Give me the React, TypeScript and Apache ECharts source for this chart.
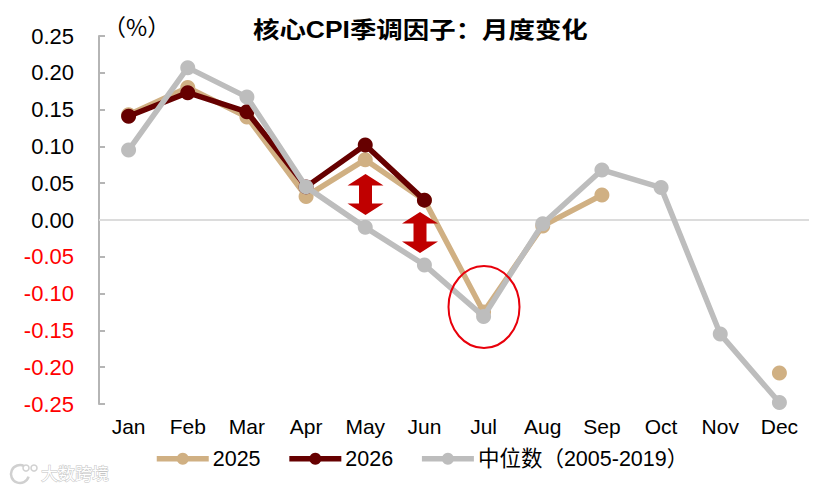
import React, { useEffect, useRef } from "react";
import * as echarts from "echarts";

const months = ["Jan", "Feb", "Mar", "Apr", "May", "Jun", "Jul", "Aug", "Sep", "Oct", "Nov", "Dec"];
const y2025 = [0.143, 0.18, 0.14, 0.032, 0.082, 0.027, -0.125, -0.008, 0.034, null, null, -0.208];
const y2026 = [0.141, 0.173, 0.147, 0.045, 0.102, 0.027, null, null, null, null, null, null];
const median = [0.095, 0.207, 0.167, 0.045, -0.01, -0.061, -0.131, -0.005, 0.068, 0.044, -0.155, -0.248];
const FONT = '"Liberation Sans", Arial, sans-serif';
const CJK = '"Liberation Sans", "Noto Sans CJK SC", sans-serif';

const arrow = (cx: number, cy: number) => ({
  type: "polygon",
  z: 20,
  shape: {
    points: [
      [cx, cy - 20.5], [cx + 18, cy - 9], [cx + 6.5, cy - 9], [cx + 6.5, cy + 9], [cx + 18, cy + 9],
      [cx, cy + 20.5], [cx - 18, cy + 9], [cx - 6.5, cy + 9], [cx - 6.5, cy - 9], [cx - 18, cy - 9],
    ],
  },
  style: { fill: "#c00000" },
});

const line = (name: string, data: (number | null)[], color: string, z: number) => ({
  name,
  type: "line",
  data,
  z,
  symbol: "circle",
  symbolSize: 15,
  showAllSymbol: true,
  connectNulls: false,
  lineStyle: { color, width: 5.5 },
  itemStyle: { color },
});

export default function App() {
  const ref = useRef<HTMLDivElement>(null);
  useEffect(() => {
    document.body.style.margin = "0";
    const chart = echarts.init(ref.current!, null, { renderer: "svg" });
    const s0: any = line("2025", y2025, "#d0b083", 3);
    s0.markLine = {
      silent: true,
      symbol: "none",
      label: { show: false },
      lineStyle: { color: "#dcdcdc", width: 2, type: "solid" },
      data: [{ yAxis: 0 }],
      z: 1,
    };
    chart.setOption({
      animation: false,
      backgroundColor: "#fff",
      grid: { left: 99, right: 21, top: 36, bottom: 87 },
      legend: {
        left: 149,
        top: 443,
        itemWidth: 52,
        itemHeight: 15,
        itemGap: 26,
        lineStyle: { width: 5.5 },
        textStyle: { fontFamily: CJK, fontSize: 21.5, color: "#000", padding: [0, 0, 0, -1] },
        data: ["2025", "2026", "中位数（2005-2019）"],
      },
      xAxis: {
        type: "category",
        data: months,
        boundaryGap: true,
        axisLine: { show: false, onZero: false },
        axisTick: { show: false },
        axisLabel: { fontFamily: FONT, fontSize: 21, color: "#000", margin: 12, interval: 0 },
      },
      yAxis: {
        type: "value",
        min: -0.25,
        max: 0.25,
        interval: 0.05,
        splitLine: { show: false },
        axisLine: { show: true, lineStyle: { color: "#b5b5b5", width: 2 } },
        axisTick: { show: true, inside: true, length: 6, lineStyle: { color: "#b5b5b5", width: 2 } },
        axisLabel: {
          fontFamily: FONT,
          fontSize: 22,
          margin: 25,
          formatter: (v: number) => v.toFixed(2),
          color: (v: any) => (Number(v) < 0 ? "#ff0000" : "#000"),
        },
      },
      series: [s0, line("2026", y2026, "#660000", 4), line("中位数（2005-2019）", median, "#bdbdbd", 5)],
      graphic: [
        {
          type: "text", x: 253, y: 19, scaleX: 1.15, z: 20,
          style: { text: "核心CPI季调因子：月度变化", font: 'bold 23px "Liberation Sans", "Noto Sans CJK SC", sans-serif', fill: "#000" },
        },
        {
          type: "text", x: 103, y: 14, z: 20,
          style: { text: "（%）", font: '23px "Noto Sans CJK SC", sans-serif', fill: "#000" },
        },
        arrow(365.5, 194.5),
        arrow(420, 232.5),
        {
          type: "ellipse", z: 20,
          shape: { cx: 484, cy: 307, rx: 35.5, ry: 41 },
          style: { fill: "none", stroke: "#e8000b", lineWidth: 2 },
        },
        {
          type: "text", x: 41, y: 464, z: 20,
          style: { text: "大数跨境", font: '17px "Noto Sans CJK SC", sans-serif', fill: "#fff", stroke: "#c4c4c4", lineWidth: 1 },
        },
        {
          type: "arc", z: 20,
          shape: { cx: 20, cy: 474, r: 9, startAngle: 0.3, endAngle: 5.2 },
          style: { fill: "none", stroke: "#d0d0d0", lineWidth: 2.5 },
        },
        {
          type: "circle", z: 20,
          shape: { cx: 26, cy: 468, r: 3 },
          style: { fill: "none", stroke: "#d0d0d0", lineWidth: 1.5 },
        },
        {
          type: "circle", z: 20,
          shape: { cx: 34, cy: 468, r: 3 },
          style: { fill: "none", stroke: "#d0d0d0", lineWidth: 1.5 },
        },
      ],
    });
    return () => chart.dispose();
  }, []);
  return <div ref={ref} style={{ width: 830, height: 491 }} />;
}
